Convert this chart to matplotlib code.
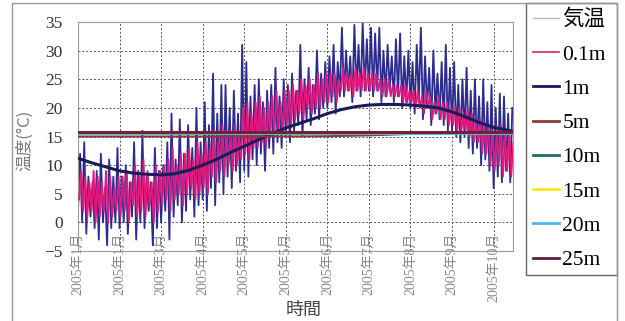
import numpy as np
import matplotlib.pyplot as plt
from matplotlib.lines import Line2D
from matplotlib.patches import Rectangle

plt.rcParams['font.family'] = ['Liberation Serif', 'Noto Sans CJK JP']

# x axis: days since 1 Jan 2005, labels every 30 days (Excel style)
tick_days = [0, 30, 60, 90, 120, 150, 180, 210, 240, 270, 300]
tick_labels = ['2005年1月', '2005年1月', '2005年3月', '2005年4月', '2005年5月',
               '2005年5月', '2005年6月', '2005年7月', '2005年8月', '2005年9月',
               '2005年10月']

# air temperature and 0.1m: max / min read every 3 days
days3 = np.arange(0, 313, 3)
air_max = [12, 14, 8, 7, 9, 12, 6, 11, 8, 13,
           8, 10, 7, 14, 9, 16, 8, 7, 13, 9,
           10, 14, 19, 11, 18, 12, 17, 13, 20, 14,
           21, 17, 26, 19, 24, 24, 20, 23, 19, 31,
           28, 22, 24, 25, 21, 23, 24, 27, 22, 25,
           24, 26, 23, 31, 25, 27, 24, 30, 26, 28,
           29, 31, 28, 34, 30, 29, 34.5, 31, 35, 32,
           34, 33, 34, 30, 31, 29, 32, 33, 29, 30,
           28, 31, 34, 29, 27, 30, 26, 28, 31, 27,
           28, 24, 25, 27, 23, 25, 22, 25, 21, 24,
           20, 22.5, 22, 19, 20]
air_min = [2, 0, -2, 1, -1, -3, 0, -4, -1, 0,
           -1, 0, -2, 1, -3, 0, -1, 2, -4, -1,
           0, 2, -3, 1, 3, 0, 2, 4, 1, 3,
           4, 2, 6, 3, 7, 5, 8, 6, 9, 7,
           9, 8, 11, 10, 12, 9, 13, 12, 14, 13,
           15, 14, 16, 17, 15, 18, 17, 19, 18, 20,
           20, 21, 19, 22, 22, 23, 21, 23, 22, 23,
           23, 22, 23, 21, 22, 23, 21, 22, 20, 21,
           20, 19, 21, 18, 20, 17, 19, 18, 17, 16,
           16, 15, 14, 15, 13, 12, 13, 10, 11, 9,
           6, 8, 7, 9, 7]
s01_max = [9, 8, 7, 9, 8, 7, 9, 8, 6, 8,
           8, 9, 7, 10, 8, 11, 9, 7, 10, 9,
           10, 11, 13, 10, 12, 12, 13, 11, 14, 12,
           14, 13, 16, 14, 17, 16, 16, 17, 15, 20,
           21, 19, 21, 22, 20, 21, 22, 23, 21, 23,
           23, 24, 23, 25, 24, 25, 24, 26, 25, 26,
           26, 26, 25, 27, 26, 26, 27, 26, 27, 26,
           26, 26, 25, 25, 25, 24, 24, 24, 24, 23,
           23, 23, 22, 23, 22, 21, 22, 21, 21, 20,
           20, 20, 19, 20, 19, 18, 18, 17, 17, 16,
           16, 17, 15, 16, 14]
s01_min = [4, 2, 1, 2, 0, 1, 2, 0, 1, 2,
           1, 2, 0, 3, 1, 2, 1, 3, 0, 2,
           3, 4, 2, 4, 5, 3, 5, 6, 4, 5,
           6, 5, 8, 7, 9, 8, 10, 9, 10, 11,
           12, 11, 13, 13, 14, 13, 15, 15, 16, 16,
           17, 17, 18, 19, 18, 20, 19, 20, 20, 21,
           21, 22, 21, 23, 23, 23, 22, 23, 23, 23,
           23, 23, 23, 22, 22, 22, 22, 22, 21, 21,
           21, 20, 20, 19, 20, 18, 19, 18, 18, 17,
           17, 16, 16, 16, 15, 14, 14, 12, 12, 10,
           9, 10, 8, 9, 8]

# deeper layers, read every 10 / 30 days
days10 = [0, 10, 20, 30, 40, 50, 60, 70, 80, 90, 100, 110, 120, 130, 140, 150,
          160, 170, 180, 190, 200, 210, 220, 230, 240, 250, 260, 270, 280, 290,
          300, 310, 314]
s1m = [11.2, 10.4, 9.7, 9.0, 8.6, 8.4, 8.3, 8.5, 9.1, 10.0, 11.0, 12.2, 13.3,
       14.4, 15.5, 16.5, 17.3, 18.1, 19.0, 19.7, 20.2, 20.5, 20.6, 20.6, 20.5,
       20.3, 20.0, 19.3, 18.4, 17.4, 16.6, 16.1, 15.9]
days30 = [0, 30, 60, 90, 120, 150, 180, 210, 240, 270, 300, 314]
s5m = [15.0, 15.0, 15.0, 15.0, 15.0, 15.0, 15.05, 15.2, 15.45, 15.6, 15.6, 15.6]
s10m = [15.6, 15.6, 15.6, 15.6, 15.6, 15.6, 15.6, 15.6, 15.6, 15.6, 15.6, 15.6]
s15m = [15.6, 15.6, 15.6, 15.6, 15.6, 15.6, 15.6, 15.6, 15.6, 15.6, 15.6, 15.6]
s20m = [15.65, 15.65, 15.65, 15.65, 15.65, 15.65, 15.65, 15.65, 15.65, 15.65, 15.65, 15.65]
s25m = [15.7, 15.7, 15.7, 15.7, 15.7, 15.7, 15.7, 15.7, 15.7, 15.7, 15.7, 15.7]

fig = plt.figure(figsize=(6.25, 3.21), dpi=100)
ax = fig.add_axes([0.1248, 0.218, 0.696, 0.7135])

# daily swing drawn as a min/max zigzag
x_air = np.column_stack([days3, days3 + 1.5]).ravel()
y_air = np.column_stack([air_min, air_max]).ravel()
x_01 = np.column_stack([days3 + 0.75, days3 + 2.25]).ravel()
y_01 = np.column_stack([s01_min, s01_max]).ravel()

ax.plot(x_air, y_air, color='#2c2c90', lw=1.3, zorder=2)
ax.plot(x_01, y_01, color='#e2197c', lw=1.3, zorder=3)
ax.plot(days10, s1m, color='#1b1b5c', lw=2.2, zorder=4)
ax.plot(days30, s5m, color='#8b3a3a', lw=1.5, zorder=5)
ax.plot(days30, s10m, color='#1f6b6b', lw=2, zorder=6)
ax.plot(days30, s15m, color='#ffe61a', lw=2, zorder=7)
ax.plot(days30, s20m, color='#4db8e8', lw=2, zorder=8)
ax.plot(days30, s25m, color='#6e2438', lw=2.2, zorder=9)

ax.set_xlim(0, 314)
ax.set_ylim(-5, 35)
ax.set_yticks(range(-5, 36, 5))
ax.set_xticks(tick_days)
ax.set_xticklabels(tick_labels, rotation=90, fontsize=10, color='#888888')
ax.tick_params(axis='x', length=0, pad=-13.5)
ax.tick_params(axis='y', length=0, pad=11, labelsize=12.5, labelcolor='#333333')
ax.grid(True, ls=(0, (2, 2)), color='#555555', lw=0.7)
ax.set_axisbelow(True)
for s in ax.spines.values():
    s.set_color('#999999')

fig.text(0.04, 0.564, '温度(°C)', rotation=90, ha='center', va='center',
         fontsize=12, color='#777777', family=['Noto Sans CJK JP'])
fig.text(0.4864, 0.034, '時間', ha='center', va='center', fontsize=13,
         color='#444444', family=['Noto Sans CJK JP'])

handles = [Line2D([], [], color='#b8b8c8', lw=1),
           Line2D([], [], color='#e2197c', lw=1.2),
           Line2D([], [], color='#1b1b5c', lw=2),
           Line2D([], [], color='#8b3a3a', lw=2),
           Line2D([], [], color='#1f6b6b', lw=2),
           Line2D([], [], color='#ffe61a', lw=2),
           Line2D([], [], color='#4db8e8', lw=2),
           Line2D([], [], color='#5a1f45', lw=2)]
labels = ['気温', '0.1m', '1m', '5m', '10m', '15m', '20m', '25m']
ax.legend(handles, labels, loc='upper left', bbox_to_anchor=(0.853, 0.97),
          bbox_transform=fig.transFigure, frameon=False, fontsize=15.5,
          handlelength=1.2, handletextpad=0.15, labelspacing=0.66,
          borderpad=0, borderaxespad=0)

# legend box and outer frame
fig.patches.append(Rectangle((0.8416, 0.1433), 0.1456, 0.8474, transform=fig.transFigure,
                             fill=False, edgecolor='#666666', lw=1))
fig.patches.append(Rectangle((0.0192, -0.05), 0.968, 1.0407, transform=fig.transFigure,
                             fill=False, edgecolor='#999999', lw=1))

fig.savefig('out.png', dpi=100)
